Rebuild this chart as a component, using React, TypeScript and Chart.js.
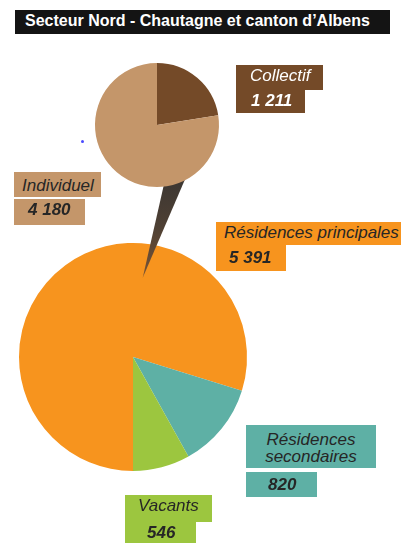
import React, { useEffect, useRef } from 'react';
import { Chart, registerables } from 'chart.js';

Chart.register(...registerables);

// ---- data ----
const chartTitle = 'Secteur Nord - Chautagne et canton d\u2019Albens';
const mainCategories = ['Résidences principales', 'Résidences secondaires', 'Vacants'];
const mainValues = [5391, 820, 546];
const mainColors = ['#F7941E', '#5EB0A5', '#9CC63F'];
const subCategories = ['Collectif', 'Individuel'];
const subValues = [1211, 4180];
const subColors = ['#744A28', '#C4966A'];

const W = 401;
const H = 543;
const FONT = '"Liberation Sans", Arial, Helvetica, sans-serif';

const fmt = (v: number) => String(v).replace(/\B(?=(\d{3})+(?!\d))/g, ' ');

type Box = [number, number, number, number];
interface LabelLayout {
  name: string;
  value: number;
  bg: string;
  color: string;
  box1: Box;
  box2: Box;
  t1: [number, number];
  t2: [number, number];
  center?: boolean;
}

const labels: LabelLayout[] = [
  { name: subCategories[0], value: subValues[0], bg: subColors[0], color: '#ffffff',
    box1: [236, 65, 87, 25], box2: [236, 90, 69, 23], t1: [250, 66.6], t2: [251, 91.6] },
  { name: subCategories[1], value: subValues[1], bg: subColors[1], color: '#262626',
    box1: [14, 172, 87, 25], box2: [14, 199, 71, 26], t1: [22, 176.6], t2: [28, 201.3] },
  { name: mainCategories[0], value: mainValues[0], bg: mainColors[0], color: '#262626',
    box1: [216, 222, 185, 23], box2: [216, 245, 70, 26], t1: [224, 224.3], t2: [229, 249.3] },
  { name: mainCategories[1], value: mainValues[1], bg: mainColors[1], color: '#262626',
    box1: [246, 425, 130, 43], box2: [246, 472, 71, 25], t1: [246, 430.6], t2: [268, 475.6], center: true },
  { name: mainCategories[2], value: mainValues[2], bg: mainColors[2], color: '#262626',
    box1: [125, 495, 87, 27], box2: [125, 522, 71, 26], t1: [138, 497.3], t2: [147, 523.6] },
];

function makeConnector(bigChart: Chart) {
  return {
    id: 'connector',
    beforeDatasetsDraw(chart: any) {
      const bArc: any = bigChart.getDatasetMeta(0).data[0];
      const sArc: any = chart.getDatasetMeta(0).data[0];
      if (!bArc || !sArc) return;
      const pt = (cx: number, cy: number, r: number, deg: number) => {
        const a = (deg * Math.PI) / 180;
        return [cx + r * Math.sin(a), cy - r * Math.cos(a)];
      };
      const [x1, y1] = pt(sArc.x, sArc.y, sArc.outerRadius * 0.95, 150);
      const [x2, y2] = pt(sArc.x, sArc.y, sArc.outerRadius * 0.95, 173);
      const [ax, ay] = pt(bArc.x, bArc.y, bArc.outerRadius * 0.7, 7);
      const ctx = chart.ctx as CanvasRenderingContext2D;
      ctx.save();
      const g = ctx.createLinearGradient(0, Math.min(y1, y2), 0, ay);
      g.addColorStop(0, '#3b3632');
      g.addColorStop(0.5, '#4e4034');
      g.addColorStop(1, '#7a5434');
      ctx.fillStyle = g;
      ctx.beginPath();
      ctx.moveTo(x1, y1);
      ctx.lineTo(x2, y2);
      ctx.lineTo(ax, ay);
      ctx.closePath();
      ctx.fill();
      ctx.restore();
    },
  };
}

export default function App() {
  const bigRef = useRef<HTMLCanvasElement>(null);
  const smallRef = useRef<HTMLCanvasElement>(null);

  useEffect(() => {
    const big = new Chart(bigRef.current!, {
      type: 'pie',
      data: {
        labels: mainCategories,
        datasets: [{ data: mainValues, backgroundColor: mainColors, borderWidth: 0 }],
      },
      options: {
        responsive: false,
        animation: false,
        devicePixelRatio: 1,
        rotation: 180,
        layout: { padding: { left: 19, top: 243, right: 154, bottom: 72 } },
        plugins: { legend: { display: false }, tooltip: { enabled: false }, title: { display: false } },
        events: [],
      },
    });
    const small = new Chart(smallRef.current!, {
      type: 'pie',
      data: {
        labels: subCategories,
        datasets: [{ data: subValues, backgroundColor: subColors, borderWidth: 0 }],
      },
      options: {
        responsive: false,
        animation: false,
        devicePixelRatio: 1,
        rotation: 0,
        layout: { padding: { left: 95, top: 63, right: 182, bottom: 356 } },
        plugins: { legend: { display: false }, tooltip: { enabled: false }, title: { display: false } },
        events: [],
      },
      plugins: [makeConnector(big)],
    });
    return () => {
      small.destroy();
      big.destroy();
    };
  }, []);

  const abs = (l: number, t: number, w?: number, h?: number): React.CSSProperties => ({
    position: 'absolute', left: l, top: t, width: w, height: h,
  });

  return (
    <div style={{ position: 'absolute', left: 0, top: 0, width: W, height: H, overflow: 'hidden', background: '#fff', fontFamily: FONT }}>
      <canvas ref={bigRef} width={W} height={H} style={{ position: 'absolute', left: 0, top: 0, zIndex: 1 }} />
      <canvas ref={smallRef} width={W} height={H} style={{ position: 'absolute', left: 0, top: 0, zIndex: 2 }} />
      <div style={{ ...abs(15, 10, 375, 24), background: '#141414', zIndex: 3 }} />
      <div style={{ ...abs(25, 12.5), zIndex: 4, color: '#fff', fontWeight: 'bold', fontSize: 16, lineHeight: '16px', whiteSpace: 'nowrap' }}>
        {chartTitle}
      </div>
      <div style={{ ...abs(80.5, 139.5, 3, 3), background: '#4a4aff', borderRadius: 2, zIndex: 3 }} />
      {labels.map((lb, i) => (
        <React.Fragment key={i}>
          <div style={{ ...abs(...lb.box1), background: lb.bg, zIndex: 3 }} />
          <div style={{ ...abs(...lb.box2), background: lb.bg, zIndex: 3 }} />
          <div
            style={{
              ...abs(lb.t1[0], lb.t1[1], lb.center ? lb.box1[2] : undefined),
              zIndex: 4, color: lb.color, fontStyle: 'italic', fontSize: 17, lineHeight: '17px',
              whiteSpace: lb.center ? 'normal' : 'nowrap', textAlign: lb.center ? 'center' : 'left',
            }}
          >
            {lb.name}
          </div>
          <div
            style={{
              ...abs(lb.t2[0], lb.t2[1]),
              zIndex: 4, color: lb.color, fontStyle: 'italic', fontWeight: 'bold', fontSize: 17, lineHeight: '17px', whiteSpace: 'nowrap',
            }}
          >
            {fmt(lb.value)}
          </div>
        </React.Fragment>
      ))}
    </div>
  );
}
